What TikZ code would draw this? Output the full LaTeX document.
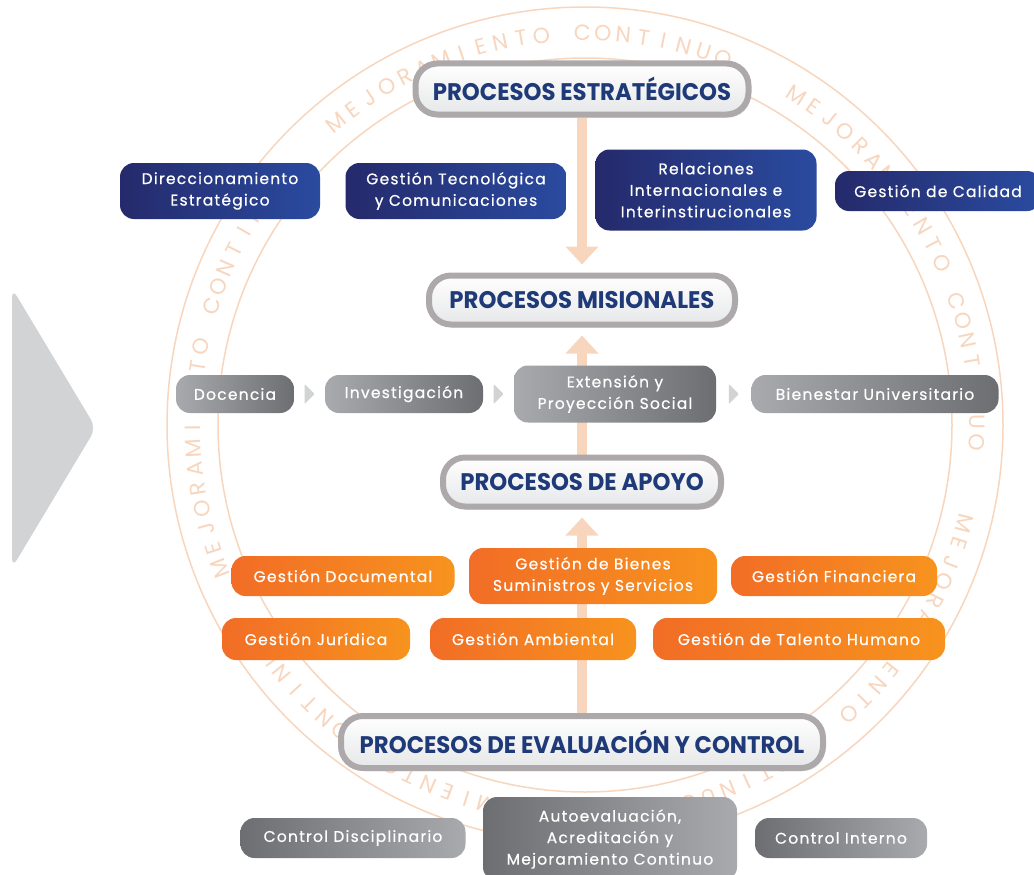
\documentclass[tikz,border=0pt]{standalone}
\usepackage{fontspec}
\setmainfont{Poppins}
\newfontfamily\cajafont{Poppins}[LetterSpace=8, FakeBold=0.6]
\newfontfamily\titfont{Poppins}[FakeStretch=0.95]
\usetikzlibrary{arrows.meta,shadows,backgrounds,calc}

\definecolor{azulosc}{HTML}{252A6B}
\definecolor{azulcla}{HTML}{2A4BA0}
\definecolor{naranjaosc}{HTML}{F26D26}
\definecolor{naranjacla}{HTML}{F7931E}
\definecolor{grisosc}{HTML}{6D6E71}
\definecolor{griscla}{HTML}{A9AAAD}
\definecolor{durazno}{HTML}{F8D6BE}
\definecolor{titulo}{HTML}{1F3A78}
\definecolor{borde}{HTML}{ADA9AB}
\definecolor{claro}{HTML}{E6E7E8}
\definecolor{chevron}{HTML}{D1D3D4}

\tikzset{
  caja/.style={rounded corners=14pt, align=center, text=white, inner sep=0pt,
    font=\cajafont\fontsize{15.5}{21.5}\selectfont},
  azul/.style={caja, left color=azulosc, right color=azulcla},
  naranja/.style={caja, left color=naranjaosc, right color=naranjacla},
  misional/.style={caja, left color=griscla, right color=grisosc},
  control/.style={caja, left color=grisosc, right color=griscla},
  cabecera/.style={rounded corners=22pt, draw=borde, line width=6pt, inner sep=0pt,
    top color=white, bottom color=claro, text=titulo,
    font=\titfont\bfseries\fontsize{24}{28}\selectfont,
    drop shadow={shadow xshift=2pt, shadow yshift=-3pt, opacity=.25}},
  anillo/.style={text=durazno, inner sep=0pt, font=\fontsize{22}{22}\selectfont},
  conector/.style={durazno, line width=10pt, -{Triangle[width=32pt,length=18pt]}, shorten >=8pt}
}

\begin{document}
\begin{tikzpicture}[x=1pt, y=-1pt]
  \useasboundingbox (0,0) rectangle (1034,875);

  % Procesos
  \node[cabecera, minimum width=333, minimum height=51] (est) at (582,89) {PROCESOS ESTRATÉGICOS};
  \node[cabecera, minimum width=306, minimum height=49] (mis) at (582,300) {PROCESOS MISIONALES};
  \node[cabecera, minimum width=278, minimum height=49] (apo) at (582,482) {PROCESOS DE APOYO};
  \node[cabecera, minimum width=482, minimum height=52] (eva) at (582,742) {PROCESOS DE EVALUACIÓN Y CONTROL};

  % Estrategicos
  \node[azul, minimum width=200, minimum height=56] (dir) at (220,191) {Direccionamiento\\Estratégico};
  \node[azul, minimum width=221, minimum height=56] (tec) at (456,191) {Gestión Tecnológica\\y Comunicaciones};
  \node[azul, minimum width=221, minimum height=81] (rel) at (706,190) {Relaciones\\Internacionales e\\Interinstirucionales};
  \node[azul, minimum width=206, minimum height=40] (cal) at (938,191) {Gestión de Calidad};

  % Misionales
  \node[misional, minimum width=118, minimum height=38] (doc) at (235,394) {Docencia};
  \node[misional, minimum width=158, minimum height=38] (inv) at (404,394) {Investigación};
  \node[misional, minimum width=202, minimum height=57] (ext) at (615,394) {Extensión y\\Proyección Social};
  \node[misional, minimum width=247, minimum height=38] (bie) at (875,394) {Bienestar Universitario};

  % Apoyo
  \node[naranja, minimum width=223, minimum height=40] (gdo) at (343,576) {Gestión Documental};
  \node[naranja, minimum width=248, minimum height=56] (gbi) at (593,576) {Gestión de Bienes\\Suministros y Servicios};
  \node[naranja, minimum width=206, minimum height=40] (gfi) at (834,576) {Gestión Financiera};
  \node[naranja, minimum width=188, minimum height=42] (gju) at (316,639) {Gestión Jurídica};
  \node[naranja, minimum width=206, minimum height=42] (gam) at (533,639) {Gestión Ambiental};
  \node[naranja, minimum width=292, minimum height=42] (gth) at (799,639) {Gestión de Talento Humano};

  % Evaluacion y control
  \node[control, minimum width=225, minimum height=40] (cdi) at (353,838) {Control Disciplinario};
  \node[control, minimum width=254, minimum height=84] (aut) at (610,839) {Autoevaluación,\\Acreditación y\\Mejoramiento Continuo};
  \node[control, minimum width=172, minimum height=40] (cin) at (841,838) {Control Interno};

  % Flechas pequenas
  \foreach \a/\b in {doc/inv, inv/ext, ext/bie}
    \fill[chevron, rounded corners=1pt] ($(\a.east)!.5!(\b.west)+(-5,-10)$) -- ++(10,10) -- ++(-10,10) -- cycle;

  % Flecha grande
  \fill[chevron, rounded corners=10pt] (12,288) -- (96,428) -- (12,568) -- cycle;

  \begin{pgfonlayer}{background}
    \fill[white] (0,0) rectangle (1034,875);
    % Mejoramiento continuo
    \begin{scope}[shift={(585,425)}, y=1pt]
      \draw[durazno, line width=1.5pt] (0,0) circle (367) (0,0) circle (418);
      \foreach \ini in {129.4,57.4,-14.6,-86.6,-158.6}
        \foreach [count=\i from 0] \letra in {M,E,J,O,R,A,M,I,E,N,T,O,{},C,O,N,T,I,N,U,O}
          \node[anillo, rotate=\ini-3*\i-90] at (\ini-3*\i:392) {\letra};
    \end{scope}
    \draw[conector] (est.south) -- (mis.north);
    \draw[conector] (apo.north) -- (mis.south);
    \draw[conector] (eva.north) -- (apo.south);
  \end{pgfonlayer}
\end{tikzpicture}
\end{document}
